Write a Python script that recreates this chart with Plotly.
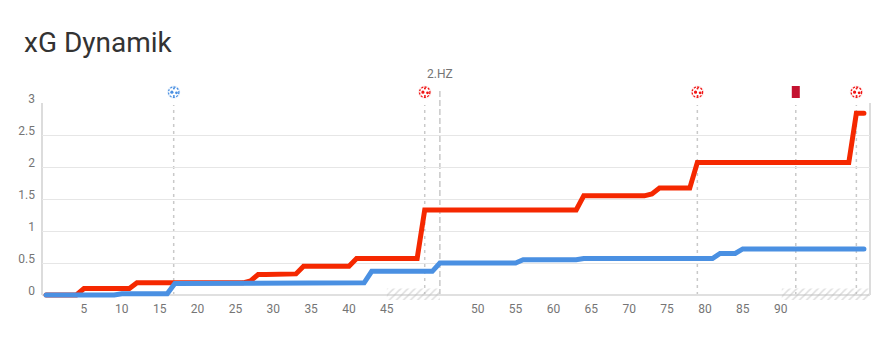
import plotly.graph_objects as go

title = "xG Dynamik"
minute_index = list(range(109))
home_xg = [0, 0, 0, 0, 0,
           .1, .1, .1, .1, .1, .1, .1,
           .19, .19, .19, .19, .19, .19, .19, .19, .19, .19, .19, .19, .19, .19, .19,
           .22,
           .32, .32, .32,
           .33, .33, .33,
           .45, .45, .45, .45, .45, .45, .45,
           .57, .57, .57, .57, .57, .57, .57, .57, .57,
           1.33, 1.33, 1.33, 1.33, 1.33, 1.33, 1.33, 1.33, 1.33, 1.33, 1.33,
           1.33, 1.33, 1.33, 1.33, 1.33, 1.33, 1.33, 1.33, 1.33, 1.33,
           1.55, 1.55, 1.55, 1.55, 1.55, 1.55, 1.55, 1.55, 1.55,
           1.58,
           1.67, 1.67, 1.67, 1.67, 1.67,
           2.07, 2.07, 2.07, 2.07, 2.07, 2.07, 2.07, 2.07, 2.07, 2.07, 2.07,
           2.07, 2.07, 2.07, 2.07, 2.07, 2.07, 2.07, 2.07, 2.07, 2.07,
           2.84, 2.84]
away_xg = [0, 0, 0, 0, 0, 0, 0, 0, 0, 0,
           .02, .02, .02, .02, .02, .02, .02,
           .18, .18, .18, .18, .18,
           .19, .19, .19, .19, .19, .19, .19, .19, .19, .19, .19,
           .19, .19, .19, .19, .19, .19, .19, .19, .19, .19,
           .37, .37, .37, .37, .37, .37, .37, .37, .37,
           .5, .5, .5, .5, .5, .5, .5, .5, .5, .5, .5,
           .55, .55, .55, .55, .55, .55, .55, .55,
           .57, .57, .57, .57, .57, .57, .57, .57, .57,
           .57, .57, .57, .57, .57, .57, .57, .57, .57,
           .65, .65, .65,
           .72, .72, .72, .72, .72, .72, .72, .72, .72,
           .72, .72, .72, .72, .72, .72, .72, .72]
x_tick_index = [5, 10, 15, 20, 25, 30, 35, 40, 45, 57, 62, 67, 72, 77, 82, 87, 92, 97]
x_tick_text = ["5", "10", "15", "20", "25", "30", "35", "40", "45",
               "50", "55", "60", "65", "70", "75", "80", "85", "90"]
y_ticks = [0, 0.5, 1, 1.5, 2, 2.5, 3]
y_tick_text = ["0", "0.5", "1", "1.5", "2", "2.5", "3"]
goal_index = [16.85, 50, 86, 107]
goal_color = ["#4a90e2", "#f01414", "#f01414", "#f01414"]
goal_halo = ["#e9f2fc", "#fde8e8", "#fde8e8", "#fde8e8"]
card_index = [99]
halftime_index = 52
halftime_label = "2.HZ"
stoppage_center = [48.5, 102.9]
stoppage_width = [7, 11.5]

RED = "#f52800"
BLUE = "#4a90e2"
GREY = "#757575"
VLINE = "#c9c9c9"

TOP = 103
BOTTOM = 300
H = BOTTOM - TOP


def paper_y(px):
    return (BOTTOM - px) / H


fig = go.Figure()

fig.add_trace(go.Bar(
    x=stoppage_center, y=[0.178, 0.178], width=stoppage_width, base=-0.078,
    marker=dict(color="rgba(255,255,255,0)", line=dict(width=0),
                pattern=dict(shape="/", fgcolor="#bdbdbd", bgcolor="rgba(255,255,255,0)",
                             size=5, solidity=0.3)),
    cliponaxis=False, hoverinfo="skip", showlegend=False))

fig.add_trace(go.Scatter(x=minute_index, y=home_xg, mode="lines",
                         line=dict(color=RED, width=5), cliponaxis=False,
                         showlegend=False, name="Heim"))
fig.add_trace(go.Scatter(x=minute_index, y=away_xg, mode="lines",
                         line=dict(color=BLUE, width=5), cliponaxis=False,
                         showlegend=False, name="Gast"))


def icon_circle(anchor, cx, cy, r, fill, line=None):
    fig.add_shape(type="circle", xref="x", yref="paper", xsizemode="pixel", ysizemode="pixel",
                  xanchor=anchor, yanchor=paper_y(92.2),
                  x0=cx - r, x1=cx + r, y0=cy - r, y1=cy + r,
                  fillcolor=fill, line=line or dict(width=0))


for g, c, halo in zip(goal_index, goal_color, goal_halo):
    icon_circle(g, 0, 0, 6.6, halo)
    icon_circle(g, 0, 0, 5.2, "white", dict(color=c, width=1.3, dash="2px,1.4px"))
    icon_circle(g, -1.8, 0, 1.6, c)
    icon_circle(g, 2.8, -0.6, 1.4, c)
    icon_circle(g, 0.2, 3.6, 1.0, c)
    icon_circle(g, 0.2, -3.8, 1.0, c)

fig.add_annotation(x=halftime_index, xref="x", y=paper_y(74), yref="paper", text=halftime_label,
                   showarrow=False, xanchor="center", yanchor="middle",
                   font=dict(family="Roboto", size=12, color=GREY))

for g in goal_index + card_index:
    fig.add_shape(type="line", x0=g, x1=g, y0=0, y1=2.97, xref="x", yref="y", layer="below",
                  line=dict(color=VLINE, width=1.5, dash="3px,4px"))
fig.add_shape(type="line", x0=halftime_index, x1=halftime_index,
              y0=paper_y(295), y1=paper_y(88), xref="x", yref="paper", layer="below",
              line=dict(color=VLINE, width=1.5, dash="6px,3px"))
for c in card_index:
    fig.add_shape(type="rect", xref="x", yref="paper", xsizemode="pixel", ysizemode="pixel",
                  xanchor=c, yanchor=paper_y(92), x0=-4, x1=4, y0=-6, y1=6,
                  fillcolor="#c41230", line=dict(width=0))
for edge in (0, 1):
    fig.add_shape(type="line", xref="paper", yref="y", x0=edge, x1=edge, y0=0, y1=3,
                  layer="below", line=dict(color="#d0d0d0", width=1.5))

fig.update_layout(
    width=895, height=361,
    margin=dict(l=42, r=25, t=TOP, b=361 - BOTTOM, pad=0),
    paper_bgcolor="white", plot_bgcolor="white",
    title=dict(text=title, x=24 / 895, xanchor="left", y=1 - 42 / 361, yanchor="middle",
               font=dict(family="Roboto", size=28, color="#333333")),
    font=dict(family="Roboto", size=12, color=GREY),
    barmode="overlay",
    xaxis=dict(range=[-0.54, 108.8], tickmode="array", tickvals=x_tick_index,
               ticktext=x_tick_text, showgrid=False, zeroline=False, ticks="",
               showline=False,
               tickfont=dict(family="Roboto", size=12, color=GREY), ticklabelstandoff=0),
    yaxis=dict(range=[-0.078, 3], tickmode="array", tickvals=y_ticks, ticktext=y_tick_text,
               showgrid=True, gridcolor="#e6e6e6", gridwidth=1,
               zeroline=True, zerolinecolor="#e0e0e0", zerolinewidth=1.5, ticks="",
               showline=False,
               tickfont=dict(family="Roboto", size=12, color=GREY),
               ticklabelshift=-4, ticklabelstandoff=6),
)

fig.write_html(
    "out.html",
    config={"displayModeBar": False},
    post_script="document.body.style.margin='0';"
                "document.querySelectorAll('.js-line').forEach(function(p){p.style.strokeLinecap='round';});",
)
